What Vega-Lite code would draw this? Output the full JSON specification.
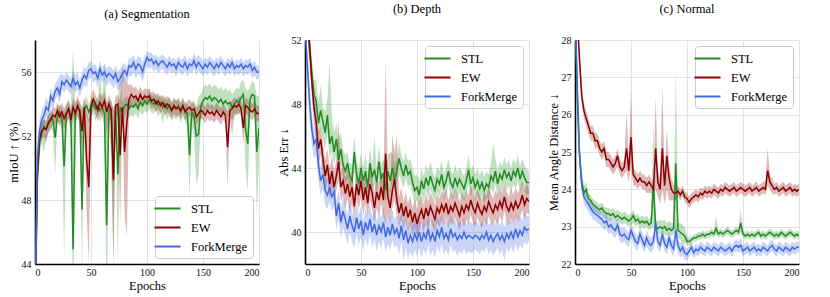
{
"$schema": "https://vega.github.io/schema/vega-lite/v6.json",
"padding": {"left": 7, "top": 2, "right": 5, "bottom": 3},
"background": "white",
"datasets": {
"seg": [
{"e":0,"s":40,"sl":38,"sh":42,"w":40,"wl":38,"wh":42,"f":40,"fl":38,"fh":42},
{"e":2,"s":49.0,"sl":48.2,"sh":49.8,"w":49.5,"wl":48.8,"wh":50.2,"f":50.5,"fl":49.6,"fh":51.3},
{"e":4,"s":51.5,"sl":50.8,"sh":52.2,"w":51.8,"wl":51.2,"wh":52.4,"f":52.3,"fl":51.6,"fh":53.0},
{"e":6,"s":52.2,"sl":51.6,"sh":52.8,"w":52.3,"wl":51.8,"wh":52.9,"f":53.0,"fl":52.4,"fh":53.6},
{"e":8,"s":52.6,"sl":51.0,"sh":53.1,"w":52.5,"wl":52.0,"wh":53.0,"f":53.3,"fl":52.7,"fh":53.9},
{"e":10,"s":52.4,"sl":51.8,"sh":53.0,"w":52.4,"wl":51.6,"wh":52.9,"f":53.8,"fl":53.2,"fh":54.4},
{"e":12,"s":52.9,"sl":52.3,"sh":53.4,"w":52.8,"wl":52.2,"wh":53.3,"f":53.6,"fl":53.0,"fh":54.1},
{"e":14,"s":53.1,"sl":52.5,"sh":53.6,"w":53.0,"wl":52.4,"wh":53.5,"f":54.5,"fl":53.9,"fh":55.0},
{"e":16,"s":53.0,"sl":52.3,"sh":53.5,"w":53.3,"wl":52.8,"wh":53.8,"f":54.2,"fl":53.6,"fh":54.7},
{"e":18,"s":51.9,"sl":49.6,"sh":53.2,"w":53.2,"wl":52.7,"wh":53.7,"f":54.8,"fl":54.2,"fh":55.3},
{"e":20,"s":53.3,"sl":52.7,"sh":53.8,"w":53.6,"wl":53.0,"wh":54.1,"f":55.0,"fl":54.5,"fh":55.5},
{"e":22,"s":53.5,"sl":52.9,"sh":54.0,"w":53.2,"wl":52.6,"wh":53.8,"f":54.6,"fl":54.0,"fh":55.8},
{"e":24,"s":53.1,"sl":52.5,"sh":53.7,"w":53.5,"wl":52.9,"wh":54.1,"f":55.4,"fl":54.9,"fh":55.9},
{"e":26,"s":50.1,"sl":44.2,"sh":53.5,"w":53.1,"wl":52.4,"wh":53.7,"f":55.2,"fl":54.7,"fh":55.7},
{"e":28,"s":53.4,"sl":52.8,"sh":53.9,"w":53.4,"wl":52.7,"wh":54.0,"f":55.5,"fl":55.0,"fh":56.0},
{"e":30,"s":53.7,"sl":53.1,"sh":54.2,"w":53.7,"wl":53.1,"wh":54.3,"f":55.3,"fl":54.8,"fh":55.8},
{"e":32,"s":53.3,"sl":52.6,"sh":53.9,"w":53.0,"wl":52.2,"wh":53.6,"f":55.1,"fl":54.6,"fh":55.6},
{"e":34,"s":44.9,"sl":40,"sh":57.5,"w":53.8,"wl":53.2,"wh":54.4,"f":55.6,"fl":55.1,"fh":56.1},
{"e":36,"s":53.5,"sl":52.8,"sh":54.1,"w":53.4,"wl":52.7,"wh":54.0,"f":55.2,"fl":54.7,"fh":55.8},
{"e":38,"s":53.8,"sl":53.2,"sh":54.3,"w":53.9,"wl":53.3,"wh":54.5,"f":55.4,"fl":54.9,"fh":56.0},
{"e":40,"s":53.6,"sl":52.9,"sh":54.1,"w":53.5,"wl":52.8,"wh":54.1,"f":55.0,"fl":54.4,"fh":55.5},
{"e":42,"s":47.4,"sl":43.5,"sh":53.8,"w":52.3,"wl":51.0,"wh":53.6,"f":55.5,"fl":54.9,"fh":56.0},
{"e":44,"s":53.7,"sl":53.0,"sh":54.2,"w":53.8,"wl":53.2,"wh":54.4,"f":55.8,"fl":55.2,"fh":56.3},
{"e":46,"s":53.9,"sl":53.3,"sh":54.5,"w":50.6,"wl":47.5,"wh":53.6,"f":55.6,"fl":55.0,"fh":56.2},
{"e":48,"s":53.5,"sl":52.8,"sh":54.0,"w":48.8,"wl":44.0,"wh":53.0,"f":56.1,"fl":55.5,"fh":56.6},
{"e":50,"s":53.8,"sl":53.2,"sh":54.3,"w":53.9,"wl":53.2,"wh":54.5,"f":56.2,"fl":55.7,"fh":56.7},
{"e":52,"s":54.0,"sl":53.4,"sh":54.5,"w":54.3,"wl":53.7,"wh":54.9,"f":55.9,"fl":55.3,"fh":56.4},
{"e":54,"s":53.7,"sl":53.0,"sh":54.2,"w":54.0,"wl":53.4,"wh":54.6,"f":56.0,"fl":55.5,"fh":56.5},
{"e":56,"s":53.9,"sl":53.3,"sh":54.4,"w":53.6,"wl":52.9,"wh":54.2,"f":55.6,"fl":55.0,"fh":56.1},
{"e":58,"s":53.6,"sl":52.9,"sh":56.0,"w":54.1,"wl":53.5,"wh":54.7,"f":56.2,"fl":55.6,"fh":56.7},
{"e":60,"s":53.8,"sl":53.2,"sh":54.3,"w":53.8,"wl":53.2,"wh":54.4,"f":55.8,"fl":55.3,"fh":56.3},
{"e":62,"s":53.4,"sl":52.6,"sh":56.7,"w":54.2,"wl":53.6,"wh":54.8,"f":56.0,"fl":55.5,"fh":56.5},
{"e":64,"s":46.4,"sl":40,"sh":54.0,"w":53.5,"wl":52.0,"wh":54.1,"f":55.7,"fl":55.1,"fh":56.2},
{"e":66,"s":53.6,"sl":52.9,"sh":54.2,"w":54.0,"wl":53.3,"wh":54.6,"f":55.9,"fl":55.4,"fh":56.4},
{"e":68,"s":53.7,"sl":53.0,"sh":54.2,"w":53.6,"wl":50.5,"wh":54.2,"f":55.8,"fl":55.2,"fh":56.3},
{"e":70,"s":49.2,"sl":44.0,"sh":53.8,"w":49.3,"wl":44.0,"wh":53.6,"f":55.6,"fl":55.0,"fh":56.1},
{"e":72,"s":53.5,"sl":52.8,"sh":54.0,"w":53.9,"wl":53.2,"wh":54.5,"f":55.9,"fl":55.3,"fh":56.4},
{"e":74,"s":49.6,"sl":44.0,"sh":54.0,"w":54.0,"wl":53.4,"wh":54.6,"f":55.4,"fl":54.8,"fh":56.0},
{"e":76,"s":53.8,"sl":53.2,"sh":56.0,"w":50.8,"wl":46.5,"wh":54.2,"f":55.6,"fl":55.0,"fh":56.2},
{"e":78,"s":53.5,"sl":52.8,"sh":54.1,"w":53.8,"wl":53.2,"wh":56.4,"f":55.9,"fl":55.3,"fh":56.4},
{"e":80,"s":53.9,"sl":53.2,"sh":54.4,"w":51.0,"wl":47.0,"wh":55.5,"f":56.1,"fl":55.5,"fh":56.6},
{"e":82,"s":54.0,"sl":53.4,"sh":54.5,"w":52.8,"wl":45.7,"wh":55.3,"f":55.8,"fl":55.2,"fh":56.3},
{"e":84,"s":53.7,"sl":53.1,"sh":54.2,"w":54.3,"wl":53.6,"wh":55.2,"f":56.4,"fl":55.8,"fh":56.9},
{"e":86,"s":53.9,"sl":53.3,"sh":54.4,"w":54.6,"wl":54.0,"wh":55.2,"f":56.3,"fl":55.7,"fh":56.8},
{"e":88,"s":53.8,"sl":53.2,"sh":54.3,"w":54.4,"wl":53.8,"wh":55.0,"f":56.6,"fl":56.0,"fh":57.1},
{"e":90,"s":54.0,"sl":53.4,"sh":54.5,"w":54.5,"wl":53.9,"wh":55.1,"f":56.2,"fl":55.6,"fh":56.7},
{"e":92,"s":53.7,"sl":53.1,"sh":54.2,"w":54.2,"wl":53.6,"wh":54.8,"f":56.5,"fl":55.9,"fh":57.0},
{"e":94,"s":54.1,"sl":53.5,"sh":54.6,"w":54.6,"wl":54.0,"wh":55.1,"f":56.4,"fl":55.8,"fh":56.9},
{"e":96,"s":53.9,"sl":53.3,"sh":54.4,"w":54.3,"wl":53.8,"wh":54.8,"f":56.0,"fl":55.4,"fh":56.6},
{"e":98,"s":54.2,"sl":53.6,"sh":54.7,"w":54.5,"wl":54.0,"wh":55.0,"f":56.5,"fl":55.9,"fh":57.0},
{"e":100,"s":54.0,"sl":53.4,"sh":54.5,"w":54.4,"wl":53.9,"wh":54.9,"f":56.9,"fl":56.4,"fh":57.3},
{"e":102,"s":54.3,"sl":53.7,"sh":54.8,"w":54.5,"wl":54.0,"wh":55.0,"f":56.7,"fl":56.2,"fh":57.2},
{"e":104,"s":54.1,"sl":53.5,"sh":54.6,"w":54.2,"wl":53.7,"wh":54.7,"f":56.8,"fl":56.3,"fh":57.2},
{"e":106,"s":54.0,"sl":53.4,"sh":54.5,"w":54.3,"wl":53.8,"wh":54.8,"f":56.5,"fl":56.0,"fh":57.0},
{"e":108,"s":54.2,"sl":53.6,"sh":54.7,"w":54.0,"wl":53.5,"wh":54.5,"f":56.7,"fl":56.2,"fh":57.1},
{"e":110,"s":53.9,"sl":53.2,"sh":54.4,"w":54.2,"wl":53.7,"wh":54.7,"f":56.4,"fl":55.9,"fh":56.9},
{"e":112,"s":54.1,"sl":53.5,"sh":54.6,"w":53.9,"wl":53.4,"wh":54.4,"f":56.6,"fl":56.1,"fh":57.0},
{"e":114,"s":53.8,"sl":52.8,"sh":54.3,"w":54.1,"wl":53.6,"wh":54.6,"f":56.7,"fl":56.2,"fh":57.1},
{"e":116,"s":54.0,"sl":53.4,"sh":54.5,"w":53.8,"wl":53.3,"wh":54.3,"f":56.5,"fl":56.0,"fh":56.9},
{"e":118,"s":53.7,"sl":53.0,"sh":54.2,"w":54.0,"wl":53.5,"wh":54.5,"f":56.3,"fl":55.8,"fh":56.8},
{"e":120,"s":53.9,"sl":53.3,"sh":54.4,"w":53.9,"wl":53.4,"wh":54.4,"f":56.6,"fl":56.1,"fh":57.0},
{"e":122,"s":53.6,"sl":52.9,"sh":54.1,"w":53.6,"wl":53.1,"wh":54.1,"f":56.4,"fl":55.9,"fh":56.8},
{"e":124,"s":53.8,"sl":53.2,"sh":54.3,"w":53.9,"wl":53.4,"wh":54.4,"f":56.5,"fl":56.0,"fh":56.9},
{"e":126,"s":53.7,"sl":53.0,"sh":54.2,"w":53.7,"wl":53.2,"wh":54.2,"f":56.2,"fl":55.7,"fh":56.7},
{"e":128,"s":53.9,"sl":53.3,"sh":54.4,"w":53.8,"wl":53.3,"wh":54.3,"f":56.6,"fl":56.1,"fh":57.0},
{"e":130,"s":53.5,"sl":52.8,"sh":54.0,"w":53.6,"wl":53.1,"wh":54.1,"f":56.4,"fl":55.9,"fh":56.8},
{"e":132,"s":53.8,"sl":53.2,"sh":54.3,"w":53.9,"wl":53.4,"wh":54.4,"f":56.3,"fl":55.8,"fh":56.8},
{"e":134,"s":53.6,"sl":52.9,"sh":54.1,"w":53.5,"wl":53.0,"wh":54.0,"f":56.6,"fl":56.1,"fh":57.1},
{"e":136,"s":53.4,"sl":52.6,"sh":54.0,"w":53.7,"wl":53.2,"wh":54.2,"f":56.2,"fl":55.7,"fh":56.7},
{"e":138,"s":50.8,"sl":48.0,"sh":53.8,"w":53.8,"wl":53.3,"wh":54.3,"f":56.5,"fl":56.0,"fh":56.9},
{"e":140,"s":53.5,"sl":52.7,"sh":54.1,"w":53.6,"wl":53.1,"wh":54.1,"f":56.4,"fl":55.9,"fh":56.8},
{"e":142,"s":53.2,"sl":52.0,"sh":54.0,"w":53.7,"wl":53.2,"wh":54.2,"f":56.7,"fl":56.2,"fh":57.2},
{"e":144,"s":52.0,"sl":49.0,"sh":53.8,"w":53.2,"wl":52.7,"wh":53.8,"f":56.3,"fl":55.8,"fh":56.8},
{"e":146,"s":52.1,"sl":49.5,"sh":54.5,"w":53.4,"wl":52.9,"wh":53.9,"f":56.6,"fl":56.1,"fh":57.1},
{"e":148,"s":53.8,"sl":53.0,"sh":54.6,"w":53.6,"wl":53.1,"wh":54.1,"f":56.4,"fl":55.9,"fh":56.9},
{"e":150,"s":54.2,"sl":53.4,"sh":55.0,"w":53.5,"wl":53.0,"wh":54.0,"f":56.2,"fl":55.7,"fh":56.7},
{"e":152,"s":54.4,"sl":53.6,"sh":55.2,"w":53.3,"wl":52.8,"wh":53.8,"f":56.5,"fl":56.0,"fh":56.9},
{"e":154,"s":54.3,"sl":53.5,"sh":55.1,"w":53.6,"wl":53.1,"wh":54.1,"f":56.3,"fl":55.8,"fh":56.8},
{"e":156,"s":54.5,"sl":53.7,"sh":55.3,"w":53.4,"wl":52.9,"wh":53.9,"f":56.6,"fl":56.1,"fh":57.0},
{"e":158,"s":54.2,"sl":53.4,"sh":55.0,"w":53.5,"wl":53.0,"wh":54.0,"f":56.4,"fl":55.9,"fh":56.8},
{"e":160,"s":54.4,"sl":53.6,"sh":55.2,"w":53.3,"wl":52.8,"wh":53.8,"f":56.2,"fl":55.7,"fh":56.7},
{"e":162,"s":54.3,"sl":53.5,"sh":55.1,"w":53.6,"wl":53.1,"wh":54.1,"f":56.5,"fl":56.0,"fh":56.9},
{"e":164,"s":54.1,"sl":53.3,"sh":54.9,"w":53.4,"wl":52.9,"wh":53.9,"f":56.3,"fl":55.8,"fh":56.8},
{"e":166,"s":54.3,"sl":53.5,"sh":55.1,"w":53.2,"wl":52.7,"wh":53.7,"f":56.6,"fl":56.1,"fh":57.0},
{"e":168,"s":54.0,"sl":53.2,"sh":54.8,"w":53.5,"wl":53.0,"wh":54.0,"f":56.4,"fl":55.9,"fh":56.8},
{"e":170,"s":54.2,"sl":53.4,"sh":55.0,"w":53.3,"wl":52.8,"wh":53.8,"f":56.2,"fl":55.7,"fh":56.6},
{"e":172,"s":54.0,"sl":53.2,"sh":54.8,"w":51.3,"wl":48.8,"wh":53.5,"f":56.5,"fl":56.0,"fh":56.9},
{"e":174,"s":54.1,"sl":53.3,"sh":54.9,"w":53.6,"wl":53.1,"wh":54.1,"f":56.3,"fl":55.8,"fh":56.7},
{"e":176,"s":53.8,"sl":53.0,"sh":54.6,"w":53.7,"wl":52.0,"wh":54.2,"f":56.6,"fl":56.1,"fh":57.0},
{"e":178,"s":54.0,"sl":53.2,"sh":54.8,"w":53.9,"wl":53.4,"wh":54.4,"f":56.2,"fl":55.7,"fh":56.6},
{"e":180,"s":54.2,"sl":53.4,"sh":55.0,"w":53.8,"wl":53.3,"wh":54.3,"f":56.4,"fl":55.9,"fh":56.8},
{"e":182,"s":54.1,"sl":53.3,"sh":54.9,"w":54.0,"wl":53.5,"wh":54.5,"f":56.3,"fl":55.8,"fh":56.7},
{"e":184,"s":54.4,"sl":53.6,"sh":55.4,"w":53.7,"wl":53.2,"wh":54.2,"f":56.5,"fl":56.0,"fh":56.9},
{"e":186,"s":54.6,"sl":53.8,"sh":55.5,"w":52.5,"wl":51.5,"wh":53.8,"f":56.2,"fl":55.7,"fh":56.6},
{"e":188,"s":52.4,"sl":50.0,"sh":55.0,"w":53.9,"wl":53.4,"wh":54.4,"f":56.4,"fl":55.9,"fh":56.8},
{"e":190,"s":51.5,"sl":48.5,"sh":54.8,"w":53.8,"wl":53.3,"wh":54.3,"f":56.3,"fl":55.8,"fh":56.7},
{"e":192,"s":54.3,"sl":53.5,"sh":55.1,"w":53.6,"wl":53.1,"wh":54.1,"f":56.5,"fl":56.0,"fh":56.9},
{"e":194,"s":54.6,"sl":53.8,"sh":55.4,"w":53.5,"wl":53.0,"wh":54.0,"f":56.1,"fl":55.6,"fh":56.5},
{"e":196,"s":54.5,"sl":53.7,"sh":55.3,"w":53.7,"wl":53.2,"wh":54.2,"f":56.3,"fl":55.8,"fh":56.7},
{"e":198,"s":51.0,"sl":47.0,"sh":54.5,"w":53.4,"wl":52.9,"wh":53.9,"f":56.0,"fl":55.5,"fh":56.4},
{"e":200,"s":52.5,"sl":50.5,"sh":54.5,"w":53.4,"wl":52.9,"wh":53.9,"f":56.0,"fl":55.6,"fh":56.4}
],
"dep": [
{"e":0,"s":56,"sl":54,"sh":58,"w":55,"wl":53,"wh":57,"f":53,"fl":52,"fh":54},
{"e":2,"s":53.5,"sl":52.5,"sh":54.5,"w":53.5,"wl":52.5,"wh":54.5,"f":50.5,"fl":49.5,"fh":51.5},
{"e":4,"s":51.5,"sl":50.5,"sh":52.5,"w":51.8,"wl":50.8,"wh":52.8,"f":48.2,"fl":47.2,"fh":49.2},
{"e":6,"s":50.0,"sl":49.0,"sh":51.0,"w":49.5,"wl":48.5,"wh":50.5,"f":46.5,"fl":45.5,"fh":47.5},
{"e":8,"s":48.6,"sl":47.5,"sh":49.5,"w":47.8,"wl":46.8,"wh":48.8,"f":45.5,"fl":44.6,"fh":46.4},
{"e":10,"s":48.2,"sl":47.2,"sh":49.5,"w":46.8,"wl":45.8,"wh":47.6,"f":45.8,"fl":44.8,"fh":46.6},
{"e":12,"s":46.8,"sl":46.0,"sh":48.0,"w":45.2,"wl":44.3,"wh":46.2,"f":44.2,"fl":43.3,"fh":45.1},
{"e":14,"s":47.6,"sl":46.5,"sh":49.2,"w":45.8,"wl":44.8,"wh":46.6,"f":43.2,"fl":42.3,"fh":44.1},
{"e":16,"s":46.9,"sl":45.8,"sh":47.8,"w":44.6,"wl":43.6,"wh":45.6,"f":43.6,"fl":42.7,"fh":44.5},
{"e":18,"s":46.2,"sl":45.2,"sh":47.5,"w":43.5,"wl":42.5,"wh":44.5,"f":42.6,"fl":41.7,"fh":43.5},
{"e":20,"s":47.3,"sl":46.2,"sh":48.3,"w":44.2,"wl":43.2,"wh":45.2,"f":42.3,"fl":41.4,"fh":43.2},
{"e":22,"s":45.5,"sl":44.6,"sh":50.7,"w":43.0,"wl":42.0,"wh":44.0,"f":42.8,"fl":41.9,"fh":43.7},
{"e":24,"s":46.0,"sl":45.0,"sh":47.2,"w":43.8,"wl":42.8,"wh":44.8,"f":42.2,"fl":41.3,"fh":43.1},
{"e":26,"s":45.0,"sl":44.2,"sh":46.2,"w":42.8,"wl":42.0,"wh":43.8,"f":42.5,"fl":41.6,"fh":43.4},
{"e":28,"s":45.8,"sl":44.8,"sh":46.8,"w":43.5,"wl":42.6,"wh":44.5,"f":41.0,"fl":40.1,"fh":41.9},
{"e":30,"s":44.5,"sl":43.7,"sh":45.8,"w":44.4,"wl":43.3,"wh":47.0,"f":41.8,"fl":40.8,"fh":42.7},
{"e":32,"s":45.2,"sl":44.3,"sh":46.2,"w":42.8,"wl":41.9,"wh":43.8,"f":40.6,"fl":39.6,"fh":41.5},
{"e":34,"s":44.2,"sl":43.4,"sh":45.2,"w":43.2,"wl":42.3,"wh":44.2,"f":41.3,"fl":40.3,"fh":42.2},
{"e":36,"s":43.8,"sl":43.0,"sh":44.8,"w":42.4,"wl":41.5,"wh":43.4,"f":40.8,"fl":39.8,"fh":41.7},
{"e":38,"s":44.3,"sl":43.3,"sh":45.0,"w":43.0,"wl":42.1,"wh":44.0,"f":40.2,"fl":39.2,"fh":41.1},
{"e":40,"s":43.5,"sl":42.8,"sh":44.3,"w":42.2,"wl":41.2,"wh":43.2,"f":41.0,"fl":40.0,"fh":41.9},
{"e":42,"s":43.2,"sl":42.5,"sh":44.2,"w":42.8,"wl":41.8,"wh":43.8,"f":40.4,"fl":39.4,"fh":41.3},
{"e":44,"s":45.0,"sl":43.8,"sh":46.0,"w":41.6,"wl":40.8,"wh":42.5,"f":40.0,"fl":39.0,"fh":40.9},
{"e":46,"s":43.6,"sl":42.8,"sh":44.5,"w":43.0,"wl":42.0,"wh":44.0,"f":40.9,"fl":39.9,"fh":41.8},
{"e":48,"s":43.0,"sl":42.2,"sh":43.9,"w":42.3,"wl":41.4,"wh":43.3,"f":40.2,"fl":39.2,"fh":41.1},
{"e":50,"s":44.0,"sl":43.0,"sh":45.0,"w":43.2,"wl":42.2,"wh":44.2,"f":40.7,"fl":39.7,"fh":41.6},
{"e":52,"s":43.2,"sl":42.4,"sh":44.0,"w":42.0,"wl":41.0,"wh":43.0,"f":39.8,"fl":38.8,"fh":40.7},
{"e":54,"s":43.8,"sl":43.0,"sh":44.8,"w":42.8,"wl":41.8,"wh":43.8,"f":40.6,"fl":39.6,"fh":41.5},
{"e":56,"s":42.8,"sl":42.0,"sh":43.8,"w":41.8,"wl":40.9,"wh":42.8,"f":40.1,"fl":39.1,"fh":41.0},
{"e":58,"s":44.3,"sl":43.3,"sh":45.3,"w":43.0,"wl":42.0,"wh":44.0,"f":40.8,"fl":39.8,"fh":41.7},
{"e":60,"s":43.4,"sl":42.6,"sh":44.2,"w":42.4,"wl":41.4,"wh":43.4,"f":40.0,"fl":39.0,"fh":40.9},
{"e":62,"s":43.9,"sl":43.0,"sh":46.0,"w":41.5,"wl":40.6,"wh":42.5,"f":40.5,"fl":39.5,"fh":41.4},
{"e":64,"s":43.1,"sl":42.3,"sh":44.0,"w":42.5,"wl":41.5,"wh":43.5,"f":39.8,"fl":38.8,"fh":40.7},
{"e":66,"s":44.4,"sl":43.4,"sh":45.4,"w":42.0,"wl":41.0,"wh":43.0,"f":40.4,"fl":39.4,"fh":41.3},
{"e":68,"s":43.3,"sl":42.5,"sh":44.2,"w":42.8,"wl":41.8,"wh":43.8,"f":40.0,"fl":39.0,"fh":40.9},
{"e":70,"s":43.7,"sl":42.8,"sh":44.6,"w":42.0,"wl":41.0,"wh":43.0,"f":40.6,"fl":39.6,"fh":41.5},
{"e":72,"s":42.6,"sl":41.8,"sh":43.4,"w":44.9,"wl":40.5,"wh":50.8,"f":39.7,"fl":38.8,"fh":40.6},
{"e":74,"s":43.8,"sl":43.0,"sh":44.8,"w":42.2,"wl":41.2,"wh":43.2,"f":40.3,"fl":39.3,"fh":41.2},
{"e":76,"s":43.2,"sl":42.4,"sh":45.0,"w":41.5,"wl":40.5,"wh":42.5,"f":39.8,"fl":38.9,"fh":40.7},
{"e":78,"s":44.0,"sl":43.2,"sh":44.9,"w":42.6,"wl":41.6,"wh":46.1,"f":40.5,"fl":39.5,"fh":41.4},
{"e":80,"s":43.3,"sl":42.5,"sh":44.2,"w":43.3,"wl":42.0,"wh":45.0,"f":39.9,"fl":39.0,"fh":40.8},
{"e":82,"s":43.8,"sl":43.0,"sh":44.6,"w":42.0,"wl":41.0,"wh":46.0,"f":40.2,"fl":39.2,"fh":41.1},
{"e":84,"s":44.6,"sl":43.6,"sh":45.6,"w":41.2,"wl":40.3,"wh":42.2,"f":39.6,"fl":38.6,"fh":40.5},
{"e":86,"s":44.0,"sl":43.2,"sh":44.8,"w":41.8,"wl":40.8,"wh":42.8,"f":40.4,"fl":39.4,"fh":41.3},
{"e":88,"s":43.5,"sl":42.7,"sh":44.4,"w":41.0,"wl":40.2,"wh":41.9,"f":39.5,"fl":38.2,"fh":40.4},
{"e":90,"s":44.2,"sl":43.4,"sh":45.0,"w":41.6,"wl":40.7,"wh":42.5,"f":40.1,"fl":39.1,"fh":41.0},
{"e":92,"s":43.6,"sl":42.8,"sh":44.4,"w":40.9,"wl":40.0,"wh":41.8,"f":39.3,"fl":38.3,"fh":40.2},
{"e":94,"s":43.8,"sl":43.0,"sh":44.6,"w":41.4,"wl":40.5,"wh":42.3,"f":39.8,"fl":38.8,"fh":40.7},
{"e":96,"s":43.1,"sl":42.3,"sh":44.0,"w":40.6,"wl":39.8,"wh":41.5,"f":39.4,"fl":38.4,"fh":40.3},
{"e":98,"s":42.6,"sl":41.8,"sh":43.5,"w":41.2,"wl":40.3,"wh":42.1,"f":39.9,"fl":38.9,"fh":40.8},
{"e":100,"s":42.8,"sl":42.0,"sh":43.6,"w":40.5,"wl":39.7,"wh":41.4,"f":39.5,"fl":38.5,"fh":40.4},
{"e":102,"s":42.3,"sl":41.6,"sh":43.2,"w":41.0,"wl":40.1,"wh":41.9,"f":40.0,"fl":39.0,"fh":40.9},
{"e":104,"s":43.2,"sl":42.4,"sh":44.0,"w":41.4,"wl":40.5,"wh":42.3,"f":39.4,"fl":38.4,"fh":40.3},
{"e":106,"s":42.7,"sl":41.9,"sh":43.5,"w":40.8,"wl":40.0,"wh":41.7,"f":39.9,"fl":38.9,"fh":40.8},
{"e":108,"s":43.4,"sl":42.6,"sh":44.2,"w":41.5,"wl":40.6,"wh":42.4,"f":39.6,"fl":38.6,"fh":40.5},
{"e":110,"s":42.9,"sl":42.1,"sh":43.8,"w":41.0,"wl":40.1,"wh":41.9,"f":40.2,"fl":39.2,"fh":41.1},
{"e":112,"s":43.5,"sl":42.7,"sh":44.4,"w":41.6,"wl":40.7,"wh":42.5,"f":39.5,"fl":38.5,"fh":40.4},
{"e":114,"s":43.0,"sl":42.2,"sh":43.8,"w":41.2,"wl":40.3,"wh":42.1,"f":39.9,"fl":38.9,"fh":40.8},
{"e":116,"s":42.6,"sl":41.8,"sh":43.4,"w":40.8,"wl":40.0,"wh":41.7,"f":39.4,"fl":38.4,"fh":40.3},
{"e":118,"s":43.3,"sl":42.5,"sh":44.1,"w":41.5,"wl":40.6,"wh":42.4,"f":40.1,"fl":39.1,"fh":41.0},
{"e":120,"s":43.0,"sl":42.2,"sh":43.8,"w":41.2,"wl":40.3,"wh":42.1,"f":39.7,"fl":38.7,"fh":40.6},
{"e":122,"s":43.6,"sl":42.8,"sh":44.5,"w":41.7,"wl":40.8,"wh":42.6,"f":40.3,"fl":39.3,"fh":41.2},
{"e":124,"s":42.8,"sl":42.0,"sh":43.6,"w":41.3,"wl":40.4,"wh":42.2,"f":39.6,"fl":38.6,"fh":40.5},
{"e":126,"s":43.2,"sl":42.4,"sh":44.0,"w":41.8,"wl":40.9,"wh":42.7,"f":39.9,"fl":38.9,"fh":40.8},
{"e":128,"s":43.8,"sl":43.0,"sh":44.6,"w":41.1,"wl":40.2,"wh":42.0,"f":39.5,"fl":38.5,"fh":40.4},
{"e":130,"s":43.1,"sl":42.3,"sh":43.9,"w":41.6,"wl":40.7,"wh":42.5,"f":40.2,"fl":39.2,"fh":41.1},
{"e":132,"s":42.8,"sl":42.0,"sh":43.6,"w":41.3,"wl":40.4,"wh":42.2,"f":39.7,"fl":38.7,"fh":40.6},
{"e":134,"s":43.4,"sl":42.6,"sh":44.2,"w":41.8,"wl":40.9,"wh":42.7,"f":39.9,"fl":38.9,"fh":40.8},
{"e":136,"s":42.9,"sl":42.1,"sh":43.7,"w":41.4,"wl":40.5,"wh":42.3,"f":39.5,"fl":38.5,"fh":40.4},
{"e":138,"s":43.3,"sl":42.5,"sh":44.1,"w":41.0,"wl":40.1,"wh":41.9,"f":39.8,"fl":38.8,"fh":40.7},
{"e":140,"s":43.0,"sl":42.2,"sh":43.8,"w":41.6,"wl":40.7,"wh":42.5,"f":39.6,"fl":38.6,"fh":40.5},
{"e":142,"s":42.7,"sl":41.9,"sh":43.5,"w":41.2,"wl":40.3,"wh":42.1,"f":40.0,"fl":39.0,"fh":40.9},
{"e":144,"s":43.2,"sl":42.4,"sh":44.0,"w":41.7,"wl":40.8,"wh":42.6,"f":39.6,"fl":38.6,"fh":40.5},
{"e":146,"s":43.9,"sl":43.0,"sh":44.8,"w":41.4,"wl":40.5,"wh":42.3,"f":39.8,"fl":38.8,"fh":40.7},
{"e":148,"s":43.0,"sl":42.2,"sh":43.8,"w":42.0,"wl":41.1,"wh":42.9,"f":39.7,"fl":38.7,"fh":40.6},
{"e":150,"s":43.4,"sl":42.6,"sh":44.2,"w":41.5,"wl":40.6,"wh":42.4,"f":39.6,"fl":38.7,"fh":40.5},
{"e":152,"s":42.8,"sl":42.0,"sh":43.6,"w":41.2,"wl":40.3,"wh":42.1,"f":39.8,"fl":38.9,"fh":40.7},
{"e":154,"s":43.2,"sl":42.4,"sh":44.0,"w":41.8,"wl":40.9,"wh":42.7,"f":39.7,"fl":38.8,"fh":40.6},
{"e":156,"s":42.7,"sl":41.9,"sh":43.5,"w":41.4,"wl":40.5,"wh":42.3,"f":39.5,"fl":38.6,"fh":40.4},
{"e":158,"s":43.1,"sl":42.3,"sh":43.9,"w":41.1,"wl":40.2,"wh":42.0,"f":39.8,"fl":38.9,"fh":40.7},
{"e":160,"s":42.6,"sl":41.8,"sh":43.4,"w":41.6,"wl":40.7,"wh":42.5,"f":39.6,"fl":38.7,"fh":40.5},
{"e":162,"s":43.0,"sl":42.2,"sh":43.8,"w":41.3,"wl":40.4,"wh":42.2,"f":40.0,"fl":39.1,"fh":40.9},
{"e":164,"s":42.8,"sl":42.0,"sh":43.6,"w":41.9,"wl":41.0,"wh":42.8,"f":39.5,"fl":38.6,"fh":40.4},
{"e":166,"s":43.5,"sl":42.7,"sh":44.3,"w":41.5,"wl":40.6,"wh":42.4,"f":39.8,"fl":38.9,"fh":40.7},
{"e":168,"s":43.2,"sl":42.4,"sh":45.5,"w":41.2,"wl":40.3,"wh":42.1,"f":39.4,"fl":38.5,"fh":40.3},
{"e":170,"s":43.8,"sl":43.0,"sh":44.6,"w":41.7,"wl":40.8,"wh":42.6,"f":39.7,"fl":38.8,"fh":40.6},
{"e":172,"s":43.0,"sl":42.2,"sh":43.8,"w":41.4,"wl":40.5,"wh":42.3,"f":39.9,"fl":39.0,"fh":40.8},
{"e":174,"s":43.6,"sl":42.8,"sh":44.4,"w":41.9,"wl":41.0,"wh":42.8,"f":39.5,"fl":38.6,"fh":40.4},
{"e":176,"s":43.3,"sl":42.5,"sh":44.1,"w":41.5,"wl":40.6,"wh":42.4,"f":39.8,"fl":38.9,"fh":40.7},
{"e":178,"s":43.9,"sl":43.1,"sh":44.7,"w":42.2,"wl":41.3,"wh":43.1,"f":39.4,"fl":38.2,"fh":40.3},
{"e":180,"s":43.4,"sl":42.6,"sh":44.2,"w":41.6,"wl":40.7,"wh":42.5,"f":39.9,"fl":39.0,"fh":40.8},
{"e":182,"s":43.7,"sl":42.9,"sh":44.5,"w":41.3,"wl":40.4,"wh":42.2,"f":39.6,"fl":38.7,"fh":40.5},
{"e":184,"s":43.2,"sl":42.4,"sh":44.0,"w":41.8,"wl":40.9,"wh":42.7,"f":40.0,"fl":39.1,"fh":40.9},
{"e":186,"s":43.8,"sl":43.0,"sh":44.6,"w":41.4,"wl":40.5,"wh":42.3,"f":39.6,"fl":38.7,"fh":40.5},
{"e":188,"s":43.5,"sl":42.7,"sh":44.3,"w":41.9,"wl":41.0,"wh":42.8,"f":40.2,"fl":39.3,"fh":41.1},
{"e":190,"s":44.0,"sl":43.2,"sh":44.8,"w":41.5,"wl":40.6,"wh":42.4,"f":39.7,"fl":38.8,"fh":40.6},
{"e":192,"s":43.3,"sl":42.5,"sh":44.1,"w":41.8,"wl":40.9,"wh":42.7,"f":40.1,"fl":39.2,"fh":41.0},
{"e":194,"s":43.8,"sl":43.0,"sh":44.6,"w":42.3,"wl":41.4,"wh":43.2,"f":39.8,"fl":38.9,"fh":40.7},
{"e":196,"s":43.4,"sl":42.6,"sh":44.2,"w":41.7,"wl":40.8,"wh":42.6,"f":40.3,"fl":39.4,"fh":41.2},
{"e":198,"s":43.1,"sl":42.3,"sh":43.9,"w":42.1,"wl":41.2,"wh":43.0,"f":40.1,"fl":39.2,"fh":41.0},
{"e":200,"s":43.1,"sl":42.4,"sh":43.8,"w":41.9,"wl":41.1,"wh":42.7,"f":40.2,"fl":39.4,"fh":41.0}
],
"nor": [
{"e":0,"s":29,"sl":28.5,"sh":29.5,"w":30,"wl":29.5,"wh":30.5,"f":29,"fl":28.5,"fh":29.5},
{"e":2,"s":26.5,"sl":26.0,"sh":27.0,"w":28.6,"wl":28.3,"wh":28.9,"f":26.8,"fl":26.3,"fh":27.3},
{"e":4,"s":24.9,"sl":24.6,"sh":25.2,"w":27.5,"wl":27.2,"wh":27.8,"f":25.0,"fl":24.7,"fh":25.3},
{"e":6,"s":24.2,"sl":24.0,"sh":24.5,"w":26.5,"wl":26.3,"wh":26.8,"f":24.1,"fl":23.9,"fh":24.4},
{"e":8,"s":23.9,"sl":23.7,"sh":24.1,"w":26.1,"wl":25.9,"wh":26.3,"f":23.8,"fl":23.6,"fh":24.0},
{"e":10,"s":24.0,"sl":23.8,"sh":24.2,"w":25.9,"wl":25.7,"wh":26.1,"f":23.7,"fl":23.5,"fh":23.9},
{"e":12,"s":23.75,"sl":23.6,"sh":23.9,"w":25.7,"wl":25.5,"wh":25.9,"f":23.6,"fl":23.4,"fh":23.8},
{"e":14,"s":23.7,"sl":23.55,"sh":23.85,"w":25.5,"wl":25.3,"wh":25.7,"f":23.5,"fl":23.3,"fh":23.7},
{"e":16,"s":23.6,"sl":23.45,"sh":23.75,"w":25.5,"wl":25.3,"wh":25.7,"f":23.4,"fl":23.2,"fh":23.6},
{"e":18,"s":23.55,"sl":23.4,"sh":23.7,"w":25.3,"wl":25.1,"wh":25.5,"f":23.35,"fl":23.15,"fh":23.55},
{"e":20,"s":23.5,"sl":23.35,"sh":23.65,"w":25.3,"wl":25.1,"wh":25.5,"f":23.3,"fl":23.1,"fh":23.5},
{"e":22,"s":23.45,"sl":23.3,"sh":23.6,"w":25.1,"wl":24.9,"wh":25.3,"f":23.25,"fl":23.05,"fh":23.45},
{"e":24,"s":23.5,"sl":23.35,"sh":23.65,"w":25.0,"wl":24.8,"wh":25.2,"f":23.2,"fl":23.0,"fh":23.4},
{"e":26,"s":23.4,"sl":23.25,"sh":23.55,"w":25.1,"wl":24.9,"wh":25.3,"f":23.1,"fl":22.9,"fh":23.3},
{"e":28,"s":23.35,"sl":23.2,"sh":23.5,"w":24.8,"wl":24.6,"wh":25.0,"f":23.15,"fl":22.95,"fh":23.35},
{"e":30,"s":23.35,"sl":23.2,"sh":23.5,"w":24.8,"wl":24.6,"wh":25.0,"f":23.0,"fl":22.8,"fh":23.2},
{"e":32,"s":23.3,"sl":23.15,"sh":23.45,"w":24.7,"wl":24.5,"wh":24.9,"f":23.05,"fl":22.85,"fh":23.25},
{"e":34,"s":23.35,"sl":23.2,"sh":23.5,"w":24.6,"wl":24.4,"wh":24.8,"f":22.95,"fl":22.75,"fh":23.15},
{"e":36,"s":23.25,"sl":23.1,"sh":23.4,"w":24.7,"wl":24.5,"wh":24.9,"f":22.9,"fl":22.7,"fh":23.1},
{"e":38,"s":23.3,"sl":23.15,"sh":23.45,"w":24.9,"wl":24.6,"wh":25.1,"f":23.05,"fl":22.85,"fh":23.25},
{"e":40,"s":23.25,"sl":23.1,"sh":23.4,"w":24.6,"wl":24.4,"wh":24.8,"f":22.8,"fl":22.6,"fh":23.0},
{"e":42,"s":23.2,"sl":23.05,"sh":23.35,"w":24.5,"wl":24.3,"wh":24.7,"f":22.75,"fl":22.55,"fh":22.95},
{"e":44,"s":23.25,"sl":23.1,"sh":23.4,"w":24.6,"wl":24.4,"wh":24.8,"f":22.8,"fl":22.6,"fh":23.0},
{"e":46,"s":23.2,"sl":23.05,"sh":23.35,"w":25.1,"wl":24.5,"wh":26.1,"f":22.7,"fl":22.5,"fh":22.9},
{"e":48,"s":23.15,"sl":23.0,"sh":23.3,"w":24.5,"wl":24.2,"wh":24.8,"f":22.65,"fl":22.45,"fh":22.85},
{"e":50,"s":23.2,"sl":23.05,"sh":23.35,"w":25.4,"wl":24.6,"wh":26.7,"f":22.9,"fl":22.7,"fh":23.1},
{"e":52,"s":23.3,"sl":23.1,"sh":23.45,"w":24.4,"wl":24.1,"wh":24.6,"f":22.75,"fl":22.55,"fh":22.95},
{"e":54,"s":23.15,"sl":23.0,"sh":23.3,"w":24.3,"wl":24.1,"wh":24.5,"f":22.6,"fl":22.4,"fh":22.8},
{"e":56,"s":23.2,"sl":23.05,"sh":23.35,"w":24.2,"wl":24.0,"wh":24.4,"f":22.55,"fl":22.35,"fh":22.75},
{"e":58,"s":23.1,"sl":22.95,"sh":23.25,"w":24.3,"wl":24.1,"wh":24.5,"f":22.8,"fl":22.6,"fh":23.0},
{"e":60,"s":23.15,"sl":23.0,"sh":23.3,"w":24.2,"wl":24.0,"wh":24.4,"f":22.65,"fl":22.45,"fh":22.85},
{"e":62,"s":23.1,"sl":22.95,"sh":23.25,"w":24.2,"wl":24.0,"wh":24.4,"f":22.5,"fl":22.3,"fh":22.7},
{"e":64,"s":23.15,"sl":23.0,"sh":23.3,"w":24.1,"wl":23.9,"wh":24.3,"f":22.7,"fl":22.5,"fh":22.9},
{"e":66,"s":23.05,"sl":22.9,"sh":23.2,"w":24.2,"wl":23.9,"wh":24.4,"f":22.55,"fl":22.35,"fh":22.75},
{"e":68,"s":23.1,"sl":22.95,"sh":23.3,"w":24.1,"wl":23.9,"wh":24.3,"f":22.5,"fl":22.3,"fh":22.7},
{"e":70,"s":24.1,"sl":23.0,"sh":25.8,"w":24.0,"wl":23.7,"wh":24.2,"f":22.6,"fl":22.4,"fh":22.8},
{"e":72,"s":23.0,"sl":22.85,"sh":23.15,"w":25.1,"wl":24.0,"wh":26.5,"f":23.1,"fl":22.7,"fh":23.4},
{"e":74,"s":22.95,"sl":22.8,"sh":23.15,"w":24.2,"wl":23.8,"wh":24.5,"f":22.6,"fl":22.4,"fh":22.8},
{"e":76,"s":23.0,"sl":22.8,"sh":23.2,"w":24.0,"wl":23.6,"wh":24.3,"f":22.5,"fl":22.3,"fh":22.7},
{"e":78,"s":22.95,"sl":22.8,"sh":23.15,"w":25.1,"wl":24.0,"wh":26.8,"f":22.8,"fl":22.6,"fh":23.0},
{"e":80,"s":23.0,"sl":22.8,"sh":23.2,"w":24.1,"wl":23.6,"wh":24.4,"f":22.55,"fl":22.35,"fh":22.75},
{"e":82,"s":22.9,"sl":22.75,"sh":23.1,"w":24.9,"wl":24.0,"wh":25.6,"f":22.45,"fl":22.25,"fh":22.65},
{"e":84,"s":22.95,"sl":22.8,"sh":23.15,"w":24.3,"wl":23.7,"wh":24.7,"f":22.7,"fl":22.5,"fh":22.9},
{"e":86,"s":22.9,"sl":22.75,"sh":23.1,"w":24.0,"wl":23.7,"wh":24.3,"f":22.5,"fl":22.3,"fh":22.7},
{"e":88,"s":22.95,"sl":22.8,"sh":23.1,"w":23.9,"wl":23.7,"wh":24.1,"f":22.4,"fl":22.2,"fh":22.6},
{"e":90,"s":24.7,"sl":22.9,"sh":27.3,"w":23.9,"wl":23.7,"wh":24.1,"f":22.9,"fl":22.5,"fh":23.2},
{"e":92,"s":22.9,"sl":22.7,"sh":23.1,"w":23.95,"wl":23.8,"wh":24.1,"f":22.5,"fl":22.3,"fh":22.7},
{"e":94,"s":22.85,"sl":22.65,"sh":23.1,"w":23.85,"wl":23.7,"wh":24.0,"f":22.35,"fl":22.15,"fh":22.55},
{"e":96,"s":22.8,"sl":22.6,"sh":23.05,"w":23.95,"wl":23.8,"wh":24.1,"f":22.45,"fl":22.25,"fh":22.65},
{"e":98,"s":22.75,"sl":22.55,"sh":23.0,"w":23.8,"wl":23.65,"wh":23.95,"f":22.3,"fl":22.1,"fh":22.5},
{"e":100,"s":22.6,"sl":22.5,"sh":22.75,"w":23.75,"wl":23.6,"wh":23.9,"f":22.25,"fl":22.1,"fh":22.4},
{"e":102,"s":22.6,"sl":22.5,"sh":22.7,"w":23.65,"wl":23.5,"wh":23.8,"f":22.35,"fl":22.2,"fh":22.5},
{"e":104,"s":22.65,"sl":22.55,"sh":22.75,"w":23.75,"wl":23.6,"wh":23.9,"f":22.45,"fl":22.3,"fh":22.6},
{"e":106,"s":22.7,"sl":22.6,"sh":22.8,"w":23.8,"wl":23.65,"wh":23.95,"f":22.3,"fl":22.15,"fh":22.45},
{"e":108,"s":22.7,"sl":22.6,"sh":22.8,"w":23.85,"wl":23.7,"wh":24.0,"f":22.4,"fl":22.25,"fh":22.55},
{"e":110,"s":22.75,"sl":22.65,"sh":22.85,"w":23.8,"wl":23.65,"wh":23.95,"f":22.35,"fl":22.2,"fh":22.5},
{"e":112,"s":22.75,"sl":22.65,"sh":22.85,"w":23.9,"wl":23.75,"wh":24.05,"f":22.45,"fl":22.3,"fh":22.6},
{"e":114,"s":22.8,"sl":22.7,"sh":22.9,"w":23.85,"wl":23.7,"wh":24.0,"f":22.4,"fl":22.25,"fh":22.55},
{"e":116,"s":22.75,"sl":22.65,"sh":22.85,"w":23.95,"wl":23.8,"wh":24.1,"f":22.35,"fl":22.2,"fh":22.5},
{"e":118,"s":22.8,"sl":22.7,"sh":22.9,"w":23.9,"wl":23.75,"wh":24.05,"f":22.45,"fl":22.3,"fh":22.6},
{"e":120,"s":22.8,"sl":22.7,"sh":22.9,"w":23.95,"wl":23.8,"wh":24.1,"f":22.4,"fl":22.25,"fh":22.55},
{"e":122,"s":22.85,"sl":22.75,"sh":22.95,"w":23.9,"wl":23.75,"wh":24.05,"f":22.35,"fl":22.2,"fh":22.5},
{"e":124,"s":22.8,"sl":22.7,"sh":22.9,"w":24.0,"wl":23.85,"wh":24.15,"f":22.45,"fl":22.3,"fh":22.6},
{"e":126,"s":22.95,"sl":22.8,"sh":23.3,"w":23.95,"wl":23.8,"wh":24.1,"f":22.4,"fl":22.25,"fh":22.55},
{"e":128,"s":22.8,"sl":22.7,"sh":22.9,"w":23.9,"wl":23.75,"wh":24.05,"f":22.35,"fl":22.2,"fh":22.5},
{"e":130,"s":22.85,"sl":22.75,"sh":22.95,"w":24.0,"wl":23.85,"wh":24.15,"f":22.45,"fl":22.3,"fh":22.6},
{"e":132,"s":22.8,"sl":22.7,"sh":22.9,"w":23.95,"wl":23.8,"wh":24.1,"f":22.4,"fl":22.25,"fh":22.55},
{"e":134,"s":22.85,"sl":22.75,"sh":22.95,"w":24.05,"wl":23.9,"wh":24.2,"f":22.35,"fl":22.2,"fh":22.5},
{"e":136,"s":22.9,"sl":22.8,"sh":23.0,"w":24.0,"wl":23.85,"wh":24.15,"f":22.4,"fl":22.25,"fh":22.55},
{"e":138,"s":22.85,"sl":22.75,"sh":22.95,"w":23.95,"wl":23.8,"wh":24.1,"f":22.45,"fl":22.3,"fh":22.6},
{"e":140,"s":22.8,"sl":22.7,"sh":22.9,"w":24.0,"wl":23.85,"wh":24.15,"f":22.35,"fl":22.2,"fh":22.5},
{"e":142,"s":22.85,"sl":22.75,"sh":22.95,"w":24.05,"wl":23.9,"wh":24.2,"f":22.45,"fl":22.3,"fh":22.6},
{"e":144,"s":22.9,"sl":22.8,"sh":23.0,"w":23.95,"wl":23.8,"wh":24.1,"f":22.5,"fl":22.35,"fh":22.65},
{"e":146,"s":22.85,"sl":22.75,"sh":22.95,"w":24.0,"wl":23.85,"wh":24.15,"f":22.45,"fl":22.3,"fh":22.6},
{"e":148,"s":23.1,"sl":22.85,"sh":23.5,"w":24.05,"wl":23.9,"wh":24.2,"f":22.5,"fl":22.35,"fh":22.7},
{"e":150,"s":22.8,"sl":22.7,"sh":22.9,"w":24.0,"wl":23.85,"wh":24.15,"f":22.35,"fl":22.2,"fh":22.5},
{"e":152,"s":22.75,"sl":22.65,"sh":22.85,"w":23.95,"wl":23.8,"wh":24.1,"f":22.4,"fl":22.25,"fh":22.55},
{"e":154,"s":22.8,"sl":22.7,"sh":22.9,"w":24.0,"wl":23.85,"wh":24.15,"f":22.45,"fl":22.3,"fh":22.6},
{"e":156,"s":22.75,"sl":22.65,"sh":22.85,"w":24.05,"wl":23.9,"wh":24.2,"f":22.35,"fl":22.2,"fh":22.5},
{"e":158,"s":22.8,"sl":22.7,"sh":22.9,"w":23.95,"wl":23.8,"wh":24.1,"f":22.4,"fl":22.25,"fh":22.55},
{"e":160,"s":22.75,"sl":22.65,"sh":22.85,"w":24.0,"wl":23.85,"wh":24.15,"f":22.45,"fl":22.3,"fh":22.6},
{"e":162,"s":22.8,"sl":22.7,"sh":22.9,"w":24.05,"wl":23.9,"wh":24.2,"f":22.35,"fl":22.2,"fh":22.5},
{"e":164,"s":22.85,"sl":22.75,"sh":22.95,"w":23.95,"wl":23.8,"wh":24.1,"f":22.4,"fl":22.25,"fh":22.55},
{"e":166,"s":22.75,"sl":22.65,"sh":22.85,"w":24.0,"wl":23.85,"wh":24.15,"f":22.35,"fl":22.2,"fh":22.5},
{"e":168,"s":22.8,"sl":22.7,"sh":22.9,"w":24.05,"wl":23.9,"wh":24.2,"f":22.45,"fl":22.3,"fh":22.6},
{"e":170,"s":22.75,"sl":22.65,"sh":22.85,"w":24.0,"wl":23.85,"wh":24.2,"f":22.4,"fl":22.25,"fh":22.55},
{"e":172,"s":22.8,"sl":22.7,"sh":22.9,"w":24.5,"wl":24.1,"wh":25.1,"f":22.35,"fl":22.2,"fh":22.5},
{"e":174,"s":22.85,"sl":22.75,"sh":22.95,"w":24.2,"wl":24.0,"wh":24.4,"f":22.45,"fl":22.3,"fh":22.6},
{"e":176,"s":22.8,"sl":22.7,"sh":22.9,"w":24.1,"wl":23.9,"wh":24.3,"f":22.5,"fl":22.35,"fh":22.65},
{"e":178,"s":22.75,"sl":22.65,"sh":22.85,"w":24.0,"wl":23.85,"wh":24.15,"f":22.4,"fl":22.25,"fh":22.55},
{"e":180,"s":22.8,"sl":22.7,"sh":22.9,"w":24.05,"wl":23.9,"wh":24.2,"f":22.35,"fl":22.2,"fh":22.5},
{"e":182,"s":22.75,"sl":22.65,"sh":22.85,"w":23.95,"wl":23.8,"wh":24.1,"f":22.45,"fl":22.3,"fh":22.6},
{"e":184,"s":22.85,"sl":22.75,"sh":22.95,"w":24.0,"wl":23.85,"wh":24.15,"f":22.4,"fl":22.25,"fh":22.55},
{"e":186,"s":22.8,"sl":22.7,"sh":22.9,"w":24.05,"wl":23.9,"wh":24.2,"f":22.35,"fl":22.2,"fh":22.5},
{"e":188,"s":22.75,"sl":22.65,"sh":22.85,"w":23.95,"wl":23.8,"wh":24.1,"f":22.45,"fl":22.3,"fh":22.6},
{"e":190,"s":22.8,"sl":22.7,"sh":22.9,"w":24.0,"wl":23.85,"wh":24.15,"f":22.4,"fl":22.25,"fh":22.55},
{"e":192,"s":22.85,"sl":22.75,"sh":22.95,"w":24.05,"wl":23.9,"wh":24.2,"f":22.35,"fl":22.2,"fh":22.5},
{"e":194,"s":22.8,"sl":22.7,"sh":22.9,"w":23.95,"wl":23.8,"wh":24.1,"f":22.45,"fl":22.3,"fh":22.6},
{"e":196,"s":22.75,"sl":22.65,"sh":22.85,"w":24.0,"wl":23.85,"wh":24.15,"f":22.4,"fl":22.25,"fh":22.55},
{"e":198,"s":22.8,"sl":22.7,"sh":22.9,"w":23.95,"wl":23.8,"wh":24.1,"f":22.45,"fl":22.3,"fh":22.6},
{"e":200,"s":22.75,"sl":22.65,"sh":22.85,"w":24.0,"wl":23.85,"wh":24.15,"f":22.45,"fl":22.3,"fh":22.6}
]
},
"spacing": 18,
"hconcat": [
{
"width": 224, "height": 224,
"title": "(a) Segmentation",
"data": {"name": "seg"},
"encoding": {"x": {"field": "e", "type": "quantitative", "scale": {"domain": [0, 200], "nice": false}, "axis": {"values": [0, 50, 100, 150, 200], "title": "Epochs"}}},
"layer": [
{"mark": {"type": "area", "color": "#228b22", "opacity": 0.28, "clip": true}, "encoding": {"y": {"field": "sl", "type": "quantitative", "scale": {"domain": [44, 58], "nice": false, "zero": false}, "axis": {"values": [44, 48, 52, 56], "labelOverlap": false, "title": "mIoU ↑ (%)"}}, "y2": {"field": "sh"}}},
{"mark": {"type": "area", "color": "#8b0000", "opacity": 0.28, "clip": true}, "encoding": {"y": {"field": "wl", "type": "quantitative"}, "y2": {"field": "wh"}}},
{"mark": {"type": "area", "color": "#4169e1", "opacity": 0.28, "clip": true}, "encoding": {"y": {"field": "fl", "type": "quantitative"}, "y2": {"field": "fh"}}},
{"mark": {"type": "line", "strokeWidth": 1.5, "clip": true}, "encoding": {"y": {"field": "s", "type": "quantitative"}, "color": {"datum": "STL", "scale": {"domain": ["STL", "EW", "ForkMerge"], "range": ["#228b22", "#8b0000", "#4169e1"]}, "legend": {"orient": "bottom-right", "title": null}}}},
{"mark": {"type": "line", "strokeWidth": 1.5, "clip": true}, "encoding": {"y": {"field": "w", "type": "quantitative"}, "color": {"datum": "EW"}}},
{"mark": {"type": "line", "strokeWidth": 1.5, "clip": true}, "encoding": {"y": {"field": "f", "type": "quantitative"}, "color": {"datum": "ForkMerge"}}}
]
},
{
"width": 224, "height": 224,
"title": "(b) Depth",
"data": {"name": "dep"},
"encoding": {"x": {"field": "e", "type": "quantitative", "scale": {"domain": [0, 200], "nice": false}, "axis": {"values": [0, 50, 100, 150, 200], "title": "Epochs"}}},
"layer": [
{"mark": {"type": "area", "color": "#228b22", "opacity": 0.28, "clip": true}, "encoding": {"y": {"field": "sl", "type": "quantitative", "scale": {"domain": [38, 52], "nice": false, "zero": false}, "axis": {"values": [40, 44, 48, 52], "labelOverlap": false, "title": "Abs Err ↓"}}, "y2": {"field": "sh"}}},
{"mark": {"type": "area", "color": "#8b0000", "opacity": 0.28, "clip": true}, "encoding": {"y": {"field": "wl", "type": "quantitative"}, "y2": {"field": "wh"}}},
{"mark": {"type": "area", "color": "#4169e1", "opacity": 0.28, "clip": true}, "encoding": {"y": {"field": "fl", "type": "quantitative"}, "y2": {"field": "fh"}}},
{"mark": {"type": "line", "strokeWidth": 1.5, "clip": true}, "encoding": {"y": {"field": "s", "type": "quantitative"}, "color": {"datum": "STL", "scale": {"domain": ["STL", "EW", "ForkMerge"], "range": ["#228b22", "#8b0000", "#4169e1"]}, "legend": {"orient": "top-right", "title": null}}}},
{"mark": {"type": "line", "strokeWidth": 1.5, "clip": true}, "encoding": {"y": {"field": "w", "type": "quantitative"}, "color": {"datum": "EW"}}},
{"mark": {"type": "line", "strokeWidth": 1.5, "clip": true}, "encoding": {"y": {"field": "f", "type": "quantitative"}, "color": {"datum": "ForkMerge"}}}
]
},
{
"width": 224, "height": 224,
"title": "(c) Normal",
"data": {"name": "nor"},
"encoding": {"x": {"field": "e", "type": "quantitative", "scale": {"domain": [0, 200], "nice": false}, "axis": {"values": [0, 50, 100, 150, 200], "title": "Epochs"}}},
"layer": [
{"mark": {"type": "area", "color": "#228b22", "opacity": 0.28, "clip": true}, "encoding": {"y": {"field": "sl", "type": "quantitative", "scale": {"domain": [22, 28], "nice": false, "zero": false}, "axis": {"values": [22, 23, 24, 25, 26, 27, 28], "labelOverlap": false, "labelBound": false, "title": "Mean Angle Distance ↓"}}, "y2": {"field": "sh"}}},
{"mark": {"type": "area", "color": "#8b0000", "opacity": 0.28, "clip": true}, "encoding": {"y": {"field": "wl", "type": "quantitative", "axis": {"values": [22, 23, 24, 25, 26, 27, 28], "labelOverlap": false, "title": "Mean Angle Distance ↓"}}, "y2": {"field": "wh"}}},
{"mark": {"type": "area", "color": "#4169e1", "opacity": 0.28, "clip": true}, "encoding": {"y": {"field": "fl", "type": "quantitative", "axis": {"values": [22, 23, 24, 25, 26, 27, 28], "labelOverlap": false, "title": "Mean Angle Distance ↓"}}, "y2": {"field": "fh"}}},
{"mark": {"type": "line", "strokeWidth": 1.5, "clip": true}, "encoding": {"y": {"field": "s", "type": "quantitative", "axis": {"values": [22, 23, 24, 25, 26, 27, 28], "labelOverlap": false, "title": "Mean Angle Distance ↓"}}, "color": {"datum": "STL", "scale": {"domain": ["STL", "EW", "ForkMerge"], "range": ["#228b22", "#8b0000", "#4169e1"]}, "legend": {"orient": "top-right", "title": null}}}},
{"mark": {"type": "line", "strokeWidth": 1.5, "clip": true}, "encoding": {"y": {"field": "w", "type": "quantitative", "axis": {"values": [22, 23, 24, 25, 26, 27, 28], "labelOverlap": false, "title": "Mean Angle Distance ↓"}}, "color": {"datum": "EW"}}},
{"mark": {"type": "line", "strokeWidth": 1.5, "clip": true}, "encoding": {"y": {"field": "f", "type": "quantitative", "axis": {"values": [22, 23, 24, 25, 26, 27, 28], "labelOverlap": false, "title": "Mean Angle Distance ↓"}}, "color": {"datum": "ForkMerge"}}}
]
}
],
"resolve": {"scale": {"color": "independent"}, "legend": {"color": "independent"}},
"config": {
"font": "Liberation Serif",
"view": {"stroke": null},
"axis": {"grid": true, "gridColor": "#dcdcdc", "gridWidth": 0.8, "domainColor": "#000", "domainWidth": 1.6, "ticks": false, "tickSize": 0, "labelOverlap": false, "labelFont": "Liberation Serif", "labelFontSize": 10, "labelColor": "#111", "titleFont": "Liberation Serif", "titleFontSize": 12.5, "titleFontWeight": "normal", "titleColor": "#000"},
"axisY": {"labelPadding": 4, "minExtent": 14, "maxExtent": 14, "titlePadding": 1},
"axisX": {"labelPadding": 3, "titlePadding": 2},
"title": {"font": "Liberation Serif", "fontSize": 12.5, "fontWeight": "normal", "offset": 20, "color": "#000"},
"legend": {"labelFont": "Liberation Serif", "labelFontSize": 12.5, "labelColor": "#000", "symbolType": "M-2,0H2", "symbolSize": 169, "symbolStrokeWidth": 2, "labelOffset": 16, "padding": 5, "rowPadding": 5, "strokeColor": "#cccccc", "fillColor": "rgba(255,255,255,0.8)", "cornerRadius": 3, "offset": 6}
}
}
